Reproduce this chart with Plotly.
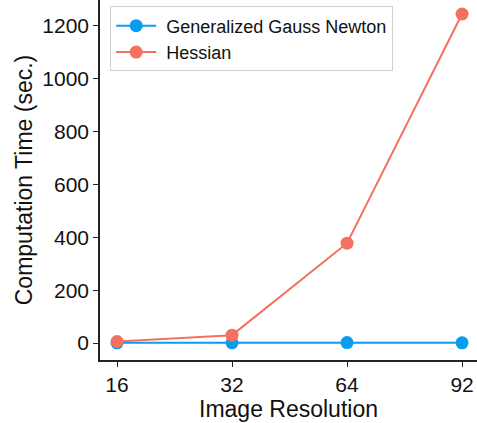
import plotly.graph_objects as go

resolutions = ["16", "32", "64", "92"]
ggn_times = [1, 1, 2, 1]
hessian_times = [6, 30, 378, 1245]

blue = "#0A9CEF"
red = "#F4705F"

fig = go.Figure()
fig.add_trace(go.Scatter(x=resolutions, y=ggn_times, mode="lines+markers",
                         name=" Generalized Gauss Newton",
                         line=dict(color=blue, width=2),
                         marker=dict(color=blue, size=13)))
fig.add_trace(go.Scatter(x=resolutions, y=hessian_times, mode="lines+markers",
                         name=" Hessian",
                         line=dict(color=red, width=2),
                         marker=dict(color=red, size=13)))

font_family = "Liberation Sans, Arial, sans-serif"
fig.update_layout(
    width=477, height=423,
    margin=dict(l=100, r=0, t=0, b=63),
    paper_bgcolor="white", plot_bgcolor="white",
    font=dict(family=font_family, color="#111111"),
    showlegend=True,
    legend=dict(x=0.027, y=0.982, xanchor="left", yanchor="top",
                bordercolor="#d0d0d0", borderwidth=1,
                bgcolor="rgba(255,255,255,0.8)",
                font=dict(size=18, family=font_family, color="#111111"),
                itemwidth=40, tracegroupgap=0),
    xaxis=dict(type="category", range=[-0.148, 3.13],
               showline=True, linecolor="#222222", linewidth=1.5,
               ticks="outside", ticklen=5, tickwidth=1.2, tickcolor="#222222",
               showgrid=False, zeroline=False,
               tickfont=dict(size=21, family=font_family),
               title=dict(text="Image Resolution", font=dict(size=23, family=font_family), standoff=2)),
    yaxis=dict(range=[-64, 1298], dtick=200, tick0=0,
               showline=True, linecolor="#222222", linewidth=1.5,
               ticks="outside", ticklen=5, tickwidth=1.2, tickcolor="#222222",
               showgrid=False, zeroline=False,
               tickfont=dict(size=21, family=font_family),
               title=dict(text="Computation Time (sec.)", font=dict(size=23, family=font_family), standoff=3)),
)

fig.write_html("out.html")
